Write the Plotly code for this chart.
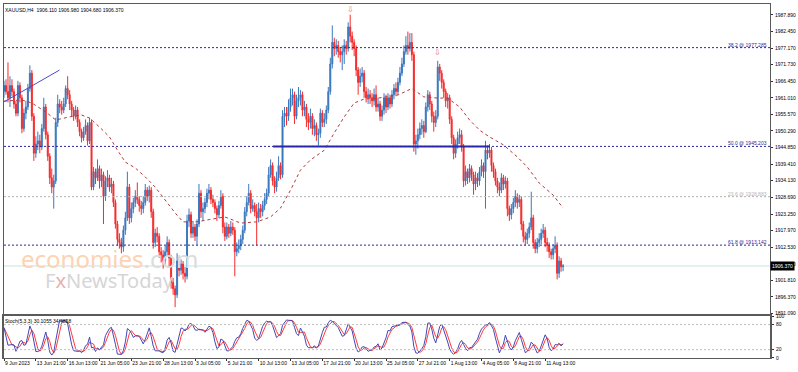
import numpy as np
import plotly.graph_objects as go

# ---------------- data ----------------
closes = [
    1965, 1963, 1961, 1965, 1963, 1959, 1956, 1965, 1961, 1951,
    1956, 1958, 1964, 1969, 1955, 1943, 1946, 1947, 1945, 1951,
    1958, 1949, 1942, 1935, 1932, 1934, 1953, 1959, 1958, 1957,
    1959, 1964, 1962, 1959, 1957, 1955, 1957, 1953, 1950, 1948,
    1950, 1952, 1947, 1953, 1932, 1937, 1935, 1938, 1934, 1936,
    1929, 1934, 1935, 1932, 1933, 1927, 1920, 1915, 1914, 1912.5,
    1918, 1922, 1932, 1922, 1925, 1927, 1929, 1928, 1926, 1925,
    1927, 1931, 1929, 1931, 1924, 1914, 1917, 1916, 1911, 1910,
    1908, 1911, 1914, 1909, 1901, 1899, 1897, 1908, 1905, 1907,
    1904, 1903, 1921, 1923, 1917, 1919, 1916, 1920, 1930, 1924,
    1925, 1927, 1930, 1931, 1928, 1927, 1925, 1923, 1926, 1929,
    1919, 1916, 1919, 1917, 1919, 1918, 1911, 1912, 1913, 1915,
    1918, 1924, 1927, 1930, 1925, 1926, 1924, 1922, 1925, 1924,
    1926, 1928, 1930, 1936, 1939, 1934, 1932, 1935, 1939, 1936,
    1955, 1956, 1955, 1958, 1961, 1962, 1955, 1960, 1961, 1962,
    1957, 1958, 1954, 1953, 1955, 1951, 1952, 1949, 1949.5, 1956,
    1953, 1954, 1957, 1963, 1972, 1979, 1977, 1978, 1976, 1975,
    1976, 1978, 1977, 1984, 1981, 1979, 1977, 1970, 1966, 1968,
    1969, 1963, 1961, 1962, 1961, 1960, 1962, 1958, 1959, 1955,
    1957, 1961, 1958, 1961, 1959, 1962, 1964, 1963, 1966, 1969,
    1972, 1976, 1978, 1977, 1979, 1975, 1946, 1947, 1949, 1951,
    1952, 1950, 1958, 1962, 1959, 1955, 1953, 1955, 1971, 1969,
    1966, 1963, 1960, 1961, 1954, 1948, 1943, 1946, 1948, 1949,
    1945, 1934, 1937, 1935, 1938, 1936, 1933, 1935, 1934, 1937,
    1939, 1937, 1944, 1943, 1944, 1939, 1937, 1934, 1932, 1931,
    1935, 1933, 1934, 1925, 1923, 1925, 1927, 1929, 1927, 1928,
    1920, 1916, 1915, 1917, 1919, 1922, 1914, 1912, 1914, 1915,
    1917, 1918, 1914, 1913, 1911, 1910, 1912, 1913, 1904, 1908,
    1906.11, 1906.37,
]
highs = [
    1966.5, 1967, 1972.5, 1968, 1967, 1964, 1960, 1966.5, 1966, 1962,
    1957.5, 1960, 1965.5, 1971.5, 1970, 1956, 1948.5, 1950, 1949, 1952.5,
    1961, 1959, 1950, 1943, 1938, 1936, 1954.5, 1962, 1960.5, 1960,
    1961, 1965, 1968, 1963.5, 1960, 1958, 1958.5, 1958, 1954, 1951,
    1951.5, 1954, 1953, 1954.5, 1954, 1938.5, 1938, 1941, 1939, 1938,
    1937, 1935.5, 1937.5, 1936, 1935, 1934, 1928, 1921, 1917, 1915.5,
    1919.5, 1924, 1937, 1933, 1927, 1928.5, 1931, 1933.5, 1929, 1927.5,
    1929, 1933, 1932, 1932.5, 1932, 1925, 1918.5, 1919, 1917, 1912.5,
    1911.5, 1913, 1916, 1915, 1910, 1902.5, 1900, 1910.5, 1909.5, 1908.5,
    1908, 1906, 1923, 1925, 1924, 1921, 1920, 1921.5, 1933, 1931,
    1927, 1928.5, 1931.5, 1933, 1932, 1929.5, 1928, 1926, 1927.5, 1931,
    1930, 1920.5, 1920.5, 1920, 1921, 1920.5, 1919, 1914, 1915, 1916.5,
    1919.5, 1925.5, 1929, 1933, 1931, 1928, 1927, 1926.5, 1927, 1926.5,
    1927.5, 1930, 1931.5, 1938.5, 1941, 1940, 1935.5, 1937, 1942, 1940,
    1957, 1958, 1958, 1960.5, 1964, 1964, 1963, 1962, 1964.5, 1963.5,
    1963, 1960, 1959, 1956, 1957.5, 1956, 1954, 1953, 1951, 1957.5,
    1957, 1956, 1958.5, 1964.5, 1974, 1984.5, 1980.5, 1980, 1979.5, 1977.5,
    1978, 1980, 1979.5, 1985.5, 1988, 1982.5, 1980, 1978, 1971, 1970.5,
    1971, 1970, 1964.5, 1964, 1963.5, 1962.5, 1964, 1965, 1961, 1960,
    1958.5, 1962.5, 1962, 1962.5, 1962, 1963.5, 1965.5, 1966, 1967.5, 1971,
    1974, 1978, 1981, 1982.5, 1982, 1982, 1976, 1949, 1951, 1953,
    1954, 1953.5, 1959.5, 1963.5, 1963, 1960, 1956.5, 1957, 1973, 1972,
    1970, 1967, 1964, 1962.5, 1962, 1955, 1949, 1947.5, 1950, 1951,
    1950.5, 1946, 1939, 1938, 1939.5, 1939, 1937, 1937, 1936.5, 1938.5,
    1941, 1940, 1947, 1945.5, 1946, 1945, 1940, 1938, 1935, 1933.5,
    1936.5, 1936, 1935.5, 1935, 1926, 1926.5, 1928.5, 1931, 1930, 1929.5,
    1929, 1921, 1917.5, 1918.5, 1920.5, 1930.5, 1923, 1915, 1915.5, 1917,
    1918.5, 1920, 1919, 1915.5, 1914, 1912, 1913.5, 1916, 1914, 1909.5,
    1909, 1906.98,
]
lows = [
    1961, 1962, 1959.5, 1958, 1961.5, 1957.5, 1955, 1955, 1959.5, 1949.5,
    1950, 1954, 1957, 1963, 1953.5, 1940.5, 1941.5, 1944, 1943, 1944,
    1950, 1947.5, 1940.5, 1933, 1930, 1925, 1933, 1951.5, 1956, 1955.5,
    1956, 1958, 1960.5, 1957, 1955, 1953.5, 1954, 1951.5, 1948.5, 1946.5,
    1947, 1949, 1945.5, 1946, 1931, 1931, 1933, 1934, 1931.5, 1932,
    1920, 1927.5, 1932, 1930.5, 1930, 1925.5, 1918.5, 1913, 1912, 1910.5,
    1911, 1916.5, 1921, 1920, 1920.5, 1923.5, 1925.5, 1926.5, 1924, 1923,
    1923.5, 1926, 1927.5, 1927, 1922, 1912, 1912.5, 1914, 1909, 1907.5,
    1905.5, 1906.5, 1909.5, 1906, 1899, 1897, 1893, 1896, 1903, 1903.5,
    1902, 1901, 1902, 1919, 1915.5, 1915.5, 1914.5, 1913, 1919, 1922,
    1921, 1923.5, 1925.5, 1928, 1926.5, 1925.5, 1923.5, 1921, 1922, 1925,
    1917, 1914.5, 1915, 1915.5, 1916, 1916.5, 1903, 1909.5, 1910.5, 1911.5,
    1913.5, 1917, 1922.5, 1926, 1923.5, 1924, 1922.5, 1913, 1920.5, 1922,
    1922.5, 1924.5, 1926.5, 1929, 1935, 1932.5, 1930, 1930.5, 1934, 1934.5,
    1935, 1951.5, 1952, 1953.5, 1956.5, 1958.5, 1952.5, 1954, 1958, 1958.5,
    1955, 1955, 1951.5, 1950.5, 1951, 1949, 1948.5, 1947, 1945.5, 1948,
    1951.5, 1951.5, 1952.5, 1956, 1962, 1970.5, 1974.5, 1975, 1974, 1972.5,
    1970, 1972, 1975, 1976, 1979, 1976.5, 1974.5, 1968, 1962, 1964.5,
    1966, 1961, 1959.5, 1959, 1959, 1958, 1958.5, 1956.5, 1956.5, 1953.5,
    1953.5, 1955.5, 1956, 1957, 1957.5, 1958, 1960.5, 1961.5, 1962, 1965,
    1968, 1971, 1975, 1975, 1976, 1973, 1943.5, 1942.5, 1944.5, 1947.5,
    1949, 1948, 1949.5, 1956.5, 1957, 1953, 1950, 1951.5, 1954, 1966.5,
    1964, 1961, 1958, 1957.5, 1952.5, 1946, 1941, 1941.5, 1944.5, 1946,
    1943.5, 1932, 1932.5, 1933, 1933.5, 1934, 1929.5, 1931, 1932, 1932.5,
    1935.5, 1935, 1925, 1941, 1941.5, 1937, 1935, 1932.5, 1930, 1929,
    1930, 1931, 1931.5, 1922.5, 1921, 1921.5, 1923.5, 1925.5, 1925, 1925.5,
    1918, 1914, 1913, 1913.5, 1915.5, 1918, 1912, 1910.5, 1910.5, 1912.5,
    1913.5, 1915.5, 1912.5, 1911, 1909, 1908.5, 1908.5, 1910.5, 1902, 1902.5,
    1904.5, 1904.68,
]
first_open = 1963.0
opens = [first_open] + closes[:-1]
assert len(closes) == len(highs) == len(lows)
bar_idx = list(range(len(closes)))

# dashed moving average (read at sampled bars)
ma_idx = [0, 9, 14, 21, 26, 33, 39, 43, 48, 53, 57, 61, 66, 71, 76, 81, 86, 90,
          97, 102, 111, 119, 127, 134, 139, 144, 149, 154, 161, 166, 171, 176,
          181, 188, 198, 205, 211, 218, 223, 229, 234, 239, 244, 251, 258, 263,
          269, 276, 281]
ma_val = [1959.9, 1960.3, 1959.3, 1956.4, 1953.8, 1954.8, 1955.4, 1954.4, 1951.5,
          1948.3, 1944.0, 1940.1, 1938.2, 1935.3, 1932.0, 1927.8, 1923.6, 1920.7,
          1920.7, 1921.3, 1922.3, 1920.3, 1920.7, 1922.3, 1925.2, 1931.0, 1937.5,
          1940.8, 1944.0, 1949.6, 1954.8, 1959.3, 1960.6, 1960.9, 1961.9, 1964.0,
          1961.3, 1960.9, 1960.9, 1958.0, 1953.8, 1950.5, 1948.3, 1945.7, 1941.8,
          1938.5, 1933.3, 1929.4, 1925.2]

# price axis labels
price_ticks = [1987.89, 1982.45, 1977.17, 1971.73, 1966.45, 1961.01, 1955.57,
               1950.29, 1944.85, 1939.41, 1934.13, 1928.69, 1923.25, 1917.97,
               1912.53, 1907.09, 1901.81, 1896.37, 1891.09]

# time axis labels (every 16 bars)
time_tick_idx = [0, 16, 32, 48, 64, 80, 96, 112, 128, 144, 160, 176, 192, 208,
                 224, 240, 256, 272]
time_tick_text = ["9 Jun 2023", "13 Jun 21:00", "16 Jun 13:00", "21 Jun 05:00",
                  "23 Jun 21:00", "28 Jun 13:00", "3 Jul 05:00", "5 Jul 21:00",
                  "10 Jul 13:00", "13 Jul 05:00", "17 Jul 21:00", "20 Jul 13:00",
                  "25 Jul 05:00", "27 Jul 21:00", "1 Aug 13:00", "4 Aug 05:00",
                  "8 Aug 21:00", "11 Aug 13:00"]

# fibonacci levels
fib_names = ["38.2", "50.0", "23.6", "61.8"]
fib_prices = [1977.285, 1945.203, 1928.883, 1913.142]
fib_colors = ["#2a2a9a", "#2a2a9a", "#b4b4b4", "#2a2a9a"]

neck_price = 1945.2
neck_from, neck_to = 135.25, 244.25
trend_x = [0.1, 27.9]
trend_y = [1959.7, 1970.0]
last_price = 1906.37
arrow_idx = [174, 218]
arrow_price = [1989.6, 1975.6]

stoch_k_per, stoch_slow, stoch_d_per = 5, 3, 3

# ---------------- stochastic (5,3,3) computed from the bars ----------------
H = np.array(highs, float)
L = np.array(lows, float)
C = np.array(closes, float)
n = len(C)
hh = np.array([H[max(0, i - stoch_k_per + 1):i + 1].max() for i in range(n)])
ll = np.array([L[max(0, i - stoch_k_per + 1):i + 1].min() for i in range(n)])
num = C - ll
den = hh - ll
K = np.array([100 * num[max(0, i - stoch_slow + 1):i + 1].sum() /
              max(den[max(0, i - stoch_slow + 1):i + 1].sum(), 1e-9) for i in range(n)])
D = np.array([K[max(0, i - stoch_d_per + 1):i + 1].mean() for i in range(n)])

# ---------------- figure ----------------
FONT = "Liberation Sans, Arial, sans-serif"
fig = go.Figure()

fig.add_trace(go.Candlestick(
    x=bar_idx, open=opens, high=highs, low=lows, close=closes,
    increasing=dict(line=dict(color="#3a78bf", width=1), fillcolor="#2f6aae"),
    decreasing=dict(line=dict(color="#f52a2a", width=1), fillcolor="#f52a2a"),
    whiskerwidth=0, showlegend=False, hoverinfo="skip", xaxis="x", yaxis="y"))

fig.add_trace(go.Scatter(
    x=ma_idx, y=ma_val, mode="lines", line=dict(color="#b03a3a", width=1, dash="3px,3px"),
    showlegend=False, hoverinfo="skip", xaxis="x", yaxis="y"))

fig.add_trace(go.Scatter(
    x=trend_x, y=trend_y, mode="lines", line=dict(color="#4a4ac8", width=1),
    showlegend=False, hoverinfo="skip", xaxis="x", yaxis="y"))

fig.add_trace(go.Scatter(
    x=bar_idx, y=D, mode="lines", line=dict(color="#ff3b3b", width=1),
    showlegend=False, hoverinfo="skip", xaxis="x2", yaxis="y2"))
fig.add_trace(go.Scatter(
    x=bar_idx, y=K, mode="lines", line=dict(color="#4646b4", width=1),
    showlegend=False, hoverinfo="skip", xaxis="x2", yaxis="y2"))

shapes = []
shapes.append(dict(type="line", xref="x domain", yref="y", x0=0, x1=1,
                   y0=last_price, y1=last_price, layer="below",
                   line=dict(color="#c6e2e2", width=1)))
for p, c in zip(fib_prices, fib_colors):
    shapes.append(dict(type="line", xref="x domain", yref="y", x0=0, x1=1, y0=p, y1=p,
                       line=dict(color=c, width=1, dash="2px,2px")))
shapes.append(dict(type="line", xref="x", yref="y", x0=neck_from, x1=neck_to,
                   y0=neck_price, y1=neck_price, line=dict(color="#2828a8", width=2)))
for lvl in [20, 80]:
    shapes.append(dict(type="line", xref="x2 domain", yref="y2", x0=0, x1=1, y0=lvl, y1=lvl,
                       line=dict(color="#bdbdbd", width=1, dash="2px,2px")))

ann = []
ann.append(dict(xref="paper", yref="paper", x=0.0, y=0.997, xanchor="left", yanchor="top",
                text="XAUUSD,H4  1906.110 1906.980 1904.680 1906.370", showarrow=False,
                xshift=-1, font=dict(family=FONT, size=5, color="#000000")))
for nm, p, c in zip(fib_names, fib_prices, fib_colors):
    ann.append(dict(xref="paper", yref="y", x=0.999, y=p, xanchor="right", yanchor="bottom",
                    text=f"{nm} @ {p:.3f}", showarrow=False, yshift=-2,
                    font=dict(family=FONT, size=5, color=c)))
ann.append(dict(xref="paper", yref="y", x=1.0, y=last_price, xanchor="left", yanchor="middle",
                text=f"{last_price:.3f}", showarrow=False, bgcolor="#000000", borderpad=1,
                font=dict(family=FONT, size=5, color="#ffffff")))
for xi, yp in zip(arrow_idx, arrow_price):
    ann.append(dict(xref="x", yref="y", x=xi, y=yp, text="⇩", showarrow=False,
                    font=dict(family="DejaVu Sans", size=8, color="#f07070")))
ann.append(dict(xref="paper", yref="y2", x=0.0, y=101, xanchor="left", yanchor="top",
                text="Stoch(5,3,3) 30.1055 34.4858", showarrow=False, xshift=-1,
                font=dict(family=FONT, size=5, color="#000000")))
# watermark
ann.append(dict(xref="x", yref="y", x=7.5, y=1908.8, xanchor="left", yanchor="middle",
                text="<span style='color:#fcd3b4'>economies</span><span style='color:#dcdcdc'>.com</span>",
                showarrow=False, font=dict(family="Noto Sans, sans-serif", size=24)))
ann.append(dict(xref="x", yref="y", x=19.5, y=1901.6, xanchor="left", yanchor="middle",
                text="F<span style='color:#e8b0b0'>x</span>NewsToday",
                showarrow=False, font=dict(family="Noto Sans, sans-serif", size=20, color="#d6d6d6")))

main_bottom = 0.1215
fig.update_layout(
    width=798, height=372,
    margin=dict(l=2, r=26, t=4, b=14),
    paper_bgcolor="#ffffff", plot_bgcolor="#ffffff",
    showlegend=False,
    shapes=shapes, annotations=ann,
    xaxis=dict(domain=[0, 1], anchor="y", range=[0, 385], showticklabels=False,
               showgrid=False, zeroline=False, showline=True, mirror=True,
               linecolor="#5a5a5a", linewidth=1, ticks="", rangeslider=dict(visible=False),
               fixedrange=True),
    yaxis=dict(domain=[main_bottom, 1], anchor="x", range=[1890.45, 1991.46], side="right",
               tickvals=price_ticks, ticktext=[f"{v:.3f}" for v in price_ticks],
               ticks="outside", ticklen=2, tickcolor="#333333", ticklabelstandoff=1,
               tickfont=dict(family=FONT, size=5, color="#000000"),
               showgrid=False, zeroline=False, showline=True, mirror=True,
               linecolor="#5a5a5a", linewidth=1),
    xaxis2=dict(domain=[0, 1], anchor="y2", matches="x", range=[0, 385],
                tickvals=time_tick_idx, ticktext=time_tick_text, tickangle=0,
                ticklabelposition="outside right", ticks="outside", ticklen=2,
                tickcolor="#333333", tickfont=dict(family=FONT, size=5, color="#000000"),
                showgrid=False, zeroline=False, showline=True, mirror=True,
                linecolor="#5a5a5a", linewidth=1),
    yaxis2=dict(domain=[0, main_bottom], anchor="x2", range=[0, 103], side="right",
                tickvals=[0, 20, 80, 100], ticktext=["0", "20", "80", "100"],
                ticks="outside", ticklen=2, tickcolor="#333333", ticklabelstandoff=1,
                tickfont=dict(family=FONT, size=5, color="#000000"),
                showgrid=False, zeroline=False, showline=True, mirror=True,
                linecolor="#5a5a5a", linewidth=2),
)

fig.write_html("out.html", config={"displayModeBar": False},
               post_script="document.body.style.margin='0';document.body.style.overflow='hidden';")
